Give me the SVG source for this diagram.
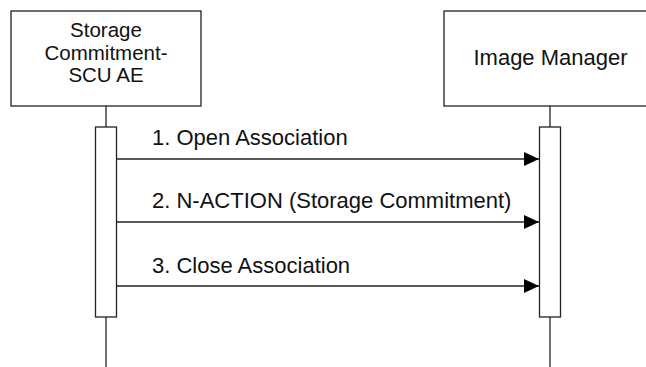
<svg xmlns="http://www.w3.org/2000/svg" width="646" height="367" viewBox="0 0 646 367">
<defs>
<style>
.box{fill:#fff;stroke:#222;stroke-width:1.3}
.line{stroke:#222;stroke-width:1.3;fill:none}
text{font-family:"Liberation Sans",Arial,sans-serif;font-size:22px;fill:#111}
.c{text-anchor:middle}
.s{font-size:20.5px}
</style>
<marker id="ah" markerUnits="userSpaceOnUse" markerWidth="16" markerHeight="16" refX="15" refY="7" orient="auto">
<path d="M0,0 L15,7 L0,14 Z" fill="#000"/>
</marker>
</defs>
<rect width="646" height="367" fill="#fff"/>
<g id="lifelines">
<line class="line" x1="106" y1="106" x2="106" y2="367"/>
<line class="line" x1="550" y1="106" x2="550" y2="367"/>
</g>
<g id="scu">
<rect class="box" x="11" y="11" width="190" height="95"/>
<text class="c s" x="106" y="37">Storage</text>
<text class="c s" x="106" y="59.5">Commitment-</text>
<text class="c s" x="106" y="82">SCU AE</text>
<rect class="box" x="95.5" y="127" width="21" height="190"/>
</g>
<g id="imgmgr">
<rect class="box" x="444" y="11" width="220" height="95"/>
<text class="c" x="550.5" y="65">Image Manager</text>
<rect class="box" x="539.5" y="127" width="21" height="190"/>
</g>
<g id="connectors">
<line class="line" x1="116.5" y1="159" x2="539" y2="159" marker-end="url(#ah)"/>
<line class="line" x1="116.5" y1="222" x2="539" y2="222" marker-end="url(#ah)"/>
<line class="line" x1="116.5" y1="286" x2="539" y2="286" marker-end="url(#ah)"/>
<text x="152" y="145">1. Open Association</text>
<text x="152" y="208">2. N-ACTION (Storage Commitment)</text>
<text x="152" y="273">3. Close Association</text>
</g>
</svg>
